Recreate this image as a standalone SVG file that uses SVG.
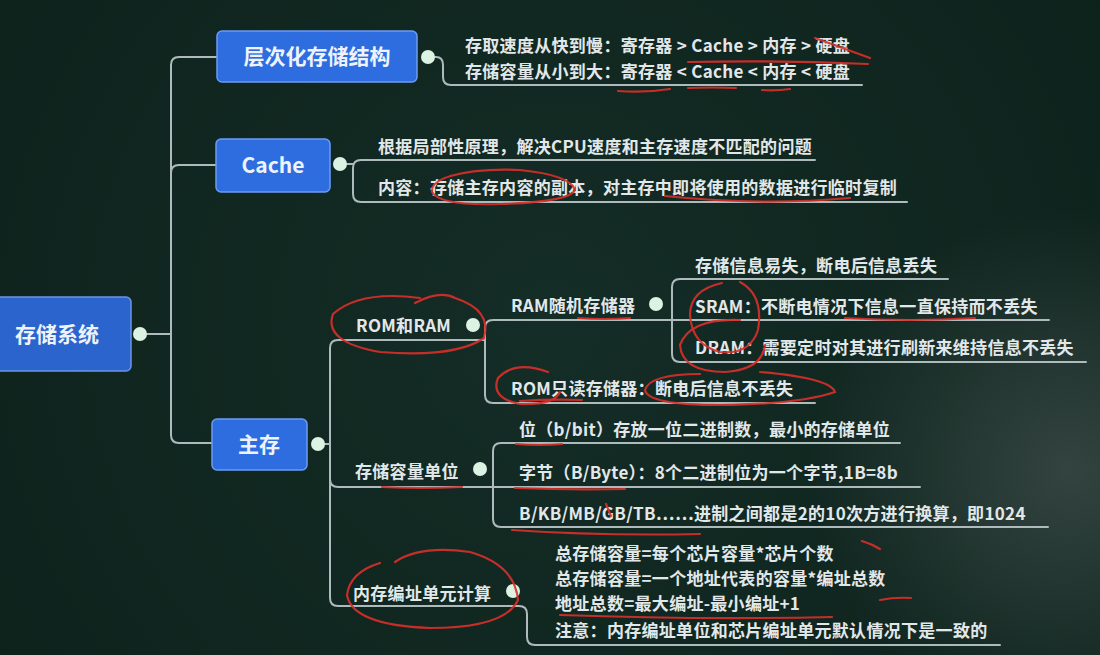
<svg xmlns="http://www.w3.org/2000/svg" width="1100" height="655" viewBox="0 0 1100 655">
<defs>
<radialGradient id="haze" cx="1070" cy="470" r="260" gradientUnits="userSpaceOnUse">
<stop offset="0" stop-color="#3a4a46" stop-opacity="0.85"/>
<stop offset="1" stop-color="#3a4a46" stop-opacity="0"/>
</radialGradient>
<radialGradient id="bg" cx="550" cy="330" r="650" gradientUnits="userSpaceOnUse">
<stop offset="0" stop-color="#142d26"/>
<stop offset="1" stop-color="#0e221c"/>
</radialGradient>
<style>
.box{fill:#2d6de0;stroke:#6c9cf2;stroke-width:1.5}
.root{fill:#2a64cc;stroke:#6a96e8;stroke-width:1.5}
.nt{font-family:"Noto Sans CJK SC","Liberation Sans",sans-serif;font-size:21px;font-weight:700;fill:#eef3fb;text-anchor:middle}
.t{font-family:"Noto Sans CJK SC","Liberation Sans",sans-serif;font-size:17px;letter-spacing:0.3px;font-weight:700;fill:#e2e8ea}
.ln{fill:none;stroke:#aebabb;stroke-width:2;stroke-linecap:round}
.dot{fill:#dcf2e2}
.red{fill:none;stroke:#d92f2a;stroke-width:2.2;stroke-linecap:round;stroke-opacity:0.9}
</style>
</defs>
<rect width="1100" height="655" fill="url(#bg)"/>
<rect width="1100" height="655" fill="url(#haze)"/>

<g id="connectors">
<path class="ln" d="M147 334 H170"/>
<path class="ln" d="M217 57 H179 Q171 57 171 65 V435 Q171 443 179 443 H212"/>
<path class="ln" d="M216 165 H179 Q171 165 171 173"/>
<path class="ln" d="M435 57 H436 Q443 57 443 65 V77 Q443 85 451 85 H862"/>
<path class="ln" d="M347 164 H353"/>
<path class="ln" d="M815 160 H361 Q353 160 353 168 V194 Q353 202 361 202 H907"/>
<path class="ln" d="M324 444 H330"/>
<path class="ln" d="M485 340 H338 Q330 340 330 348 V598 Q330 606 338 606 H519 Q527 606 527 614 V637 Q527 645 535 645 H1000"/>
<path class="ln" d="M330 479 Q330 487 338 487 H920"/>
<path class="ln" d="M1049 320 H493 Q485 320 485 328 V395 Q485 403 493 403 H815"/>
<path class="ln" d="M948 279 H680 Q672 279 672 287 V354 Q672 362 680 362 H1086"/>
<path class="ln" d="M900 443 H501 Q493 443 493 451 V519 Q493 527 501 527 H1048"/>
</g>

<g id="root">
<rect class="root" x="-6" y="297" width="137" height="74" rx="5"/>
<text class="nt" x="57" y="342">存储系统</text>
<circle class="dot" cx="140" cy="334" r="7"/>
</g>

<g id="n-hier">
<rect class="box" x="217" y="31" width="200" height="51" rx="5"/>
<text class="nt" x="317" y="64">层次化存储结构</text>
<circle class="dot" cx="428" cy="57" r="7"/>
<text class="t" x="465" y="52">存取速度从快到慢：寄存器 &gt; Cache &gt; 内存 &gt; 硬盘</text>
<text class="t" x="465" y="78">存储容量从小到大：寄存器 &lt; Cache &lt; 内存 &lt; 硬盘</text>
</g>

<g id="n-cache">
<rect class="box" x="216" y="139" width="114" height="53" rx="5"/>
<text class="nt" x="273" y="173">Cache</text>
<circle class="dot" cx="340" cy="164" r="7"/>
<text class="t" x="378" y="153">根据局部性原理，解决CPU速度和主存速度不匹配的问题</text>
<text class="t" x="378" y="194">内容：存储主存内容的副本，对主存中即将使用的数据进行临时复制</text>
</g>

<g id="n-main">
<rect class="box" x="212" y="419" width="95" height="51" rx="5"/>
<text class="nt" x="259" y="452">主存</text>
<circle class="dot" cx="318" cy="444" r="7"/>
</g>

<g id="n-romram">
<text class="t" x="356" y="332">ROM和RAM</text>
<circle class="dot" cx="473" cy="325" r="7"/>
</g>
<g id="n-ram">
<text class="t" x="511" y="312">RAM随机存储器</text>
<circle class="dot" cx="656" cy="304" r="7"/>
<text class="t" x="695" y="272">存储信息易失，断电后信息丢失</text>
<text class="t" x="695" y="313">SRAM：不断电情况下信息一直保持而不丢失</text>
<text class="t" x="695" y="354">DRAM：需要定时对其进行刷新来维持信息不丢失</text>
</g>
<g id="n-rom">
<text class="t" x="511" y="395">ROM只读存储器：断电后信息不丢失</text>
</g>

<g id="n-unit">
<text class="t" x="355" y="478">存储容量单位</text>
<circle class="dot" cx="480" cy="469" r="7"/>
<text class="t" x="519" y="436">位（b/bit）存放一位二进制数，最小的存储单位</text>
<text class="t" x="519" y="479">字节（B/Byte）：8个二进制位为一个字节,1B=8b</text>
<text class="t" x="519" y="520">B/KB/MB/GB/TB……进制之间都是2的10次方进行换算，即1024</text>
</g>

<g id="n-addr">
<text class="t" x="353" y="600">内存编址单元计算</text>
<circle class="dot" cx="513" cy="591" r="7"/>
<text class="t" x="555" y="560">总存储容量=每个芯片容量*芯片个数</text>
<text class="t" x="555" y="585">总存储容量=一个地址代表的容量*编址总数</text>
<text class="t" x="555" y="610">地址总数=最大编址-最小编址+1</text>
<text class="t" x="555" y="637">注意：内存编址单位和芯片编址单元默认情况下是一致的</text>
</g>

<g id="annotations">
<path class="red" d="M688 62 Q780 60 868 64"/>
<path class="red" d="M815 38 L870 58"/>
<path class="red" d="M618 91 Q645 93 670 89"/>
<path class="red" d="M688 88 Q712 87 736 88"/>
<path class="red" d="M762 90 Q776 91 790 89"/>
<path class="red" d="M470 172 Q430 178 432 192 Q440 206 500 204 Q570 202 575 190 Q570 175 520 170 Q480 168 450 176"/>
<path class="red" d="M665 196 Q760 206 850 198"/>
<path class="red" d="M420 298 Q360 290 333 314 Q323 342 380 352 Q455 358 484 338 Q492 310 455 298 Q440 290 415 303"/>
<path class="red" d="M578 318 Q605 320 630 318"/>
<path class="red" d="M722 283 Q690 290 690 315 Q692 345 720 352 Q750 355 758 330 Q764 295 740 282"/>
<path class="red" d="M740 320 Q690 318 680 345 Q682 372 725 372 Q762 370 765 345"/>
<path class="red" d="M845 318 Q910 322 975 318"/>
<path class="red" d="M548 372 Q515 360 498 378 Q490 398 520 404 Q555 405 560 392"/>
<path class="red" d="M520 401 Q550 399 582 400"/>
<path class="red" d="M700 374 Q650 374 645 390 Q648 405 720 405 Q800 404 835 392 Q830 378 760 372"/>
<path class="red" d="M516 444 Q540 446 562 444"/>
<path class="red" d="M382 487 Q420 489 462 487"/>
<path class="red" d="M515 488 Q570 490 625 489"/>
<path class="red" d="M512 530 Q600 536 700 534"/>
<path class="red" d="M606 504 L611 516"/>
<path class="red" d="M862 541 Q872 544 880 549"/>
<path class="red" d="M880 600 Q895 597 911 598"/>
<path class="red" d="M380 563 Q350 572 347 595 Q352 625 430 628 Q505 628 518 600 Q515 565 470 552 Q420 545 395 562"/>
<path class="red" d="M560 615 Q700 620 832 617"/>
</g>
</svg>
